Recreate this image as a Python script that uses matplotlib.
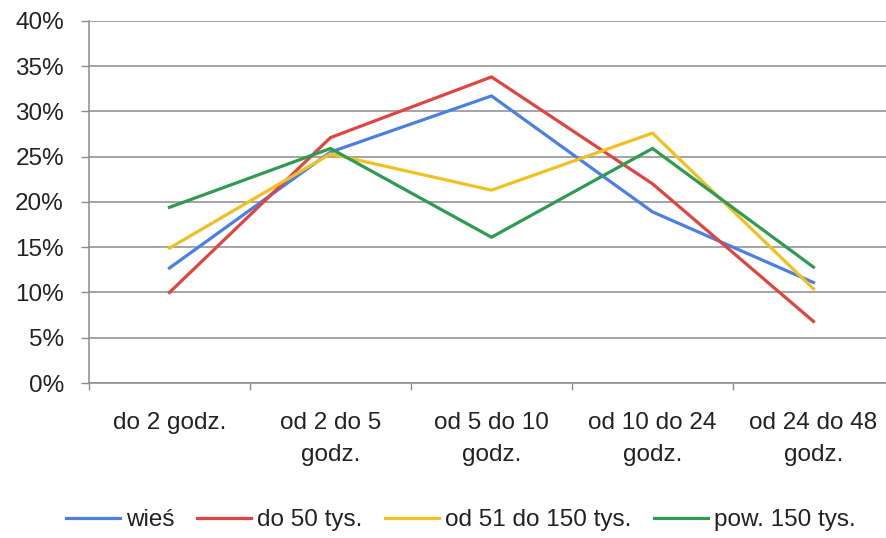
import matplotlib
matplotlib.use("Agg")
import matplotlib.pyplot as plt
import numpy as np

plt.rcParams['font.family'] = ['Liberation Sans', 'DejaVu Sans']

categories = ["do 2 godz.", "od 2 do 5\ngodz.", "od 5 do 10\ngodz.",
              "od 10 do 24\ngodz.", "od 24 do 48\ngodz."]
series_names = ["wieś", "do 50 tys.", "od 51 do 150 tys.", "pow. 150 tys."]
wies = [12.7, 25.5, 31.7, 18.9, 11.1]
do_50 = [10.0, 27.1, 33.8, 22.0, 6.8]
od_51_150 = [14.9, 25.3, 21.3, 27.6, 10.4]
pow_150 = [19.4, 25.9, 16.1, 25.9, 12.8]
y_ticks = [0, 5, 10, 15, 20, 25, 30, 35, 40]

colors = ["#4a7fe6", "#e0443e", "#f2c01e", "#2f9a52"]
grid_color = "#8c8c8c"
fs = 17.5

fig = plt.figure(figsize=(8.87, 5.38), dpi=100)
ax = fig.add_axes([0.1003, 0.288, 0.9076, 0.6734])

x = np.arange(len(categories)) + 0.5
for vals, name, c in zip([wies, do_50, od_51_150, pow_150], series_names, colors):
    ax.plot(x, vals, color=c, lw=2.3, label=name, solid_joinstyle='miter')

ax.set_xlim(0, len(categories))
ax.set_ylim(0, 40)

# y axis: percent labels with gridlines
ax.set_yticks(y_ticks)
ax.set_yticklabels([f"{v}%" for v in y_ticks], fontsize=fs, color="#222222")
ax.yaxis.grid(True, color=grid_color, lw=1.1)
ax.tick_params(axis='y', direction='out', length=6, width=1, color=grid_color, pad=12)

# x axis: ticks at category boundaries, labels centred on categories
ax.set_xticks(np.arange(len(categories) + 1))
ax.set_xticklabels([])
ax.set_xticks(x, minor=True)
ax.set_xticklabels(categories, minor=True, fontsize=fs, color="#222222",
                   linespacing=1.6)
ax.tick_params(axis='x', which='major', direction='out', length=5, width=1, color=grid_color)
ax.tick_params(axis='x', which='minor', length=0, pad=21)

for side in ['top', 'right']:
    ax.spines[side].set_visible(False)
for side in ['left', 'bottom']:
    ax.spines[side].set_color(grid_color)
    ax.spines[side].set_linewidth(1.1)
ax.set_axisbelow(True)

fig.legend(loc='center', bbox_to_anchor=(461 / 887, 1 - 520 / 538), ncol=4,
           frameon=False, fontsize=fs, handlelength=2.2, handletextpad=0.25,
           columnspacing=0.95, labelcolor="#222222")

fig.savefig("out.png", dpi=100)
